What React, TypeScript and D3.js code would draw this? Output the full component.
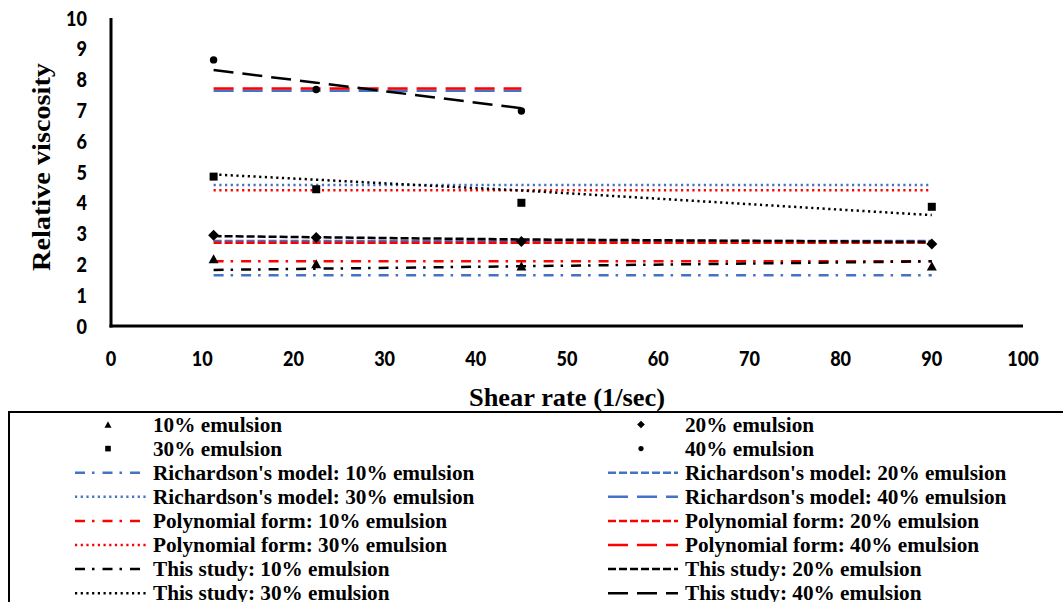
import React, { useEffect, useRef } from 'react';
import * as d3 from 'd3';

// shear rates (1/sec)
const shearRates = [11.25, 22.5, 45, 90];
const shearRates40 = [11.25, 22.5, 45];

// measured relative viscosity
const measured10 = [2.18, 2.02, 1.95, 1.95];
const measured20 = [2.95, 2.87, 2.74, 2.66];
const measured30 = [4.85, 4.44, 4.0, 3.87];
const measured40 = [8.64, 7.68, 6.98];

// Richardson's model
const richardson10 = [1.65, 1.65, 1.65, 1.65];
const richardson20 = [2.76, 2.76, 2.76, 2.76];
const richardson30 = [4.58, 4.58, 4.58, 4.58];
const richardson40 = [7.64, 7.64, 7.64];

// polynomial form
const polynomial10 = [2.1, 2.1, 2.1, 2.1];
const polynomial20 = [2.7, 2.7, 2.7, 2.7];
const polynomial30 = [4.41, 4.41, 4.41, 4.41];
const polynomial40 = [7.71, 7.71, 7.71];

// this study
const thisStudy10 = [1.82, 1.86, 1.94, 2.1];
const thisStudy20 = [2.92, 2.88, 2.81, 2.73];
const thisStudy30 = [4.92, 4.75, 4.4, 3.6];
const thisStudy40 = [8.31, 7.9, 7.07];

const xTicks = [0, 10, 20, 30, 40, 50, 60, 70, 80, 90, 100];
const yTicks = [0, 1, 2, 3, 4, 5, 6, 7, 8, 9, 10];

const BLUE = '#4472C4';
const RED = '#FF0000';
const BLACK = '#000000';

const DASH_DOT = '10,7,2.5,8';
const SHORT_DASH = '8,3';
const DOT = '2.2,3.5';
const LONG_DASH = '20,9';

const markerSeries = [
  { name: '10% emulsion', xs: shearRates, ys: measured10, shape: 'triangle' },
  { name: '20% emulsion', xs: shearRates, ys: measured20, shape: 'diamond' },
  { name: '30% emulsion', xs: shearRates, ys: measured30, shape: 'square' },
  { name: '40% emulsion', xs: shearRates40, ys: measured40, shape: 'circle' },
];

const lineSeries = [
  { name: "Richardson's model: 10% emulsion", xs: shearRates, ys: richardson10, color: BLUE, dash: DASH_DOT },
  { name: "Richardson's model: 20% emulsion", xs: shearRates, ys: richardson20, color: BLUE, dash: SHORT_DASH },
  { name: "Richardson's model: 30% emulsion", xs: shearRates, ys: richardson30, color: BLUE, dash: DOT },
  { name: "Richardson's model: 40% emulsion", xs: shearRates40, ys: richardson40, color: BLUE, dash: LONG_DASH },
  { name: 'Polynomial form: 10% emulsion', xs: shearRates, ys: polynomial10, color: RED, dash: DASH_DOT },
  { name: 'Polynomial form: 20% emulsion', xs: shearRates, ys: polynomial20, color: RED, dash: SHORT_DASH },
  { name: 'Polynomial form: 30% emulsion', xs: shearRates, ys: polynomial30, color: RED, dash: DOT },
  { name: 'Polynomial form: 40% emulsion', xs: shearRates40, ys: polynomial40, color: RED, dash: LONG_DASH },
  { name: 'This study: 10% emulsion', xs: shearRates, ys: thisStudy10, color: BLACK, dash: DASH_DOT },
  { name: 'This study: 20% emulsion', xs: shearRates, ys: thisStudy20, color: BLACK, dash: SHORT_DASH },
  { name: 'This study: 30% emulsion', xs: shearRates, ys: thisStudy30, color: BLACK, dash: DOT },
  { name: 'This study: 40% emulsion', xs: shearRates40, ys: thisStudy40, color: BLACK, dash: LONG_DASH },
];

const drawMarker = (g, shape, cx, cy, big) => {
  const k = big ? 1 : 0.7;
  if (shape === 'triangle') {
    const s = 10 * k;
    const h = s * 0.9;
    g.append('path')
      .attr('d', `M${cx},${cy - h / 2}L${cx + s / 2},${cy + h / 2}L${cx - s / 2},${cy + h / 2}Z`)
      .attr('fill', BLACK);
  } else if (shape === 'square') {
    const s = 8 * k;
    g.append('rect').attr('x', cx - s / 2).attr('y', cy - s / 2)
      .attr('width', s).attr('height', s).attr('fill', BLACK);
  } else if (shape === 'diamond') {
    const r = 5.5 * k;
    g.append('path')
      .attr('d', `M${cx},${cy - r}L${cx + r},${cy}L${cx},${cy + r}L${cx - r},${cy}Z`)
      .attr('fill', BLACK);
  } else {
    g.append('circle').attr('cx', cx).attr('cy', cy).attr('r', 3.7 * k).attr('fill', BLACK);
  }
};

const App = () => {
  const ref = useRef(null);

  useEffect(() => {
    const svg = d3.select(ref.current);
    svg.selectAll('*').remove();

    const x = d3.scaleLinear().domain([0, 100]).range([111, 1023]);
    const y = d3.scaleLinear().domain([0, 10]).range([326, 18]);

    // axes (no tick marks, thick black lines)
    svg.append('line').attr('x1', x(0)).attr('x2', x(0)).attr('y1', y(10)).attr('y2', y(0) + 1.5)
      .attr('stroke', BLACK).attr('stroke-width', 3);
    svg.append('line').attr('x1', x(0) - 1.5).attr('x2', x(100)).attr('y1', y(0)).attr('y2', y(0))
      .attr('stroke', BLACK).attr('stroke-width', 3);

    svg.selectAll('.ytick').data(yTicks).enter().append('text')
      .attr('class', 'ytick')
      .attr('transform', d => `translate(87,${y(d)}) scale(0.86,1)`)
      .attr('dy', '0.36em')
      .attr('text-anchor', 'end')
      .attr('font-family', 'Lato')
      .attr('font-weight', 900)
      .attr('font-size', 21)
      .text(d => d);

    svg.selectAll('.xtick').data(xTicks).enter().append('text')
      .attr('class', 'xtick')
      .attr('transform', d => `translate(${x(d)},358) scale(0.86,1)`)
      .attr('dy', '0.36em')
      .attr('text-anchor', 'middle')
      .attr('font-family', 'Lato')
      .attr('font-weight', 900)
      .attr('font-size', 21)
      .text(d => d);

    svg.append('text')
      .attr('x', 567).attr('y', 406)
      .attr('text-anchor', 'middle')
      .attr('font-family', 'Liberation Serif')
      .attr('font-weight', 'bold')
      .attr('font-size', 25)
      .attr('textLength', 196).attr('lengthAdjust', 'spacingAndGlyphs')
      .text('Shear rate (1/sec)');

    svg.append('text')
      .attr('transform', 'translate(50,167) rotate(-90)')
      .attr('text-anchor', 'middle')
      .attr('font-family', 'Liberation Serif')
      .attr('font-weight', 'bold')
      .attr('font-size', 25)
      .attr('textLength', 208).attr('lengthAdjust', 'spacingAndGlyphs')
      .text('Relative viscosity');

    // model lines
    const line = d3.line().x(d => x(d[0])).y(d => y(d[1]));
    lineSeries.forEach(s => {
      svg.append('path')
        .datum(s.xs.map((v, i) => [v, s.ys[i]]))
        .attr('d', line)
        .attr('fill', 'none')
        .attr('stroke', s.color)
        .attr('stroke-width', 2.5)
        .attr('stroke-dasharray', s.dash);
    });

    // measured points
    const pts = svg.append('g');
    markerSeries.forEach(s => {
      s.xs.forEach((v, i) => drawMarker(pts, s.shape, x(v), y(s.ys[i]), true));
    });

    // legend
    const legend = svg.append('g');
    legend.append('rect')
      .attr('x', 9).attr('y', 412).attr('width', 1100).attr('height', 300)
      .attr('fill', 'none').attr('stroke', BLACK).attr('stroke-width', 2);

    const entries = [
      ...markerSeries.map(s => ({ ...s, kind: 'marker' })),
      ...lineSeries.map(s => ({ ...s, kind: 'line' })),
    ];
    const cols = [
      { lx1: 75, lx2: 146, mx: 108, tx: 153 },
      { lx1: 608, lx2: 678, mx: 641, tx: 685 },
    ];
    entries.forEach((e, i) => {
      const c = cols[i % 2];
      const cy = 424.5 + Math.floor(i / 2) * 24.1;
      if (e.kind === 'marker') {
        drawMarker(legend, e.shape, c.mx, cy, false);
      } else {
        legend.append('line')
          .attr('x1', c.lx1).attr('x2', c.lx2).attr('y1', cy).attr('y2', cy)
          .attr('stroke', e.color).attr('stroke-width', 2.5)
          .attr('stroke-dasharray', e.dash);
      }
      legend.append('text')
        .attr('transform', `translate(${c.tx},${cy + 7}) scale(0.965,1)`)
        .attr('font-family', 'Liberation Serif')
        .attr('font-weight', 'bold')
        .attr('font-size', 22)
        .text(e.name);
    });
  }, []);

  return (
    <svg ref={ref} width={1063} height={602}
      style={{ position: 'absolute', left: 0, top: 0, background: '#fff' }} />
  );
};

export default App;
